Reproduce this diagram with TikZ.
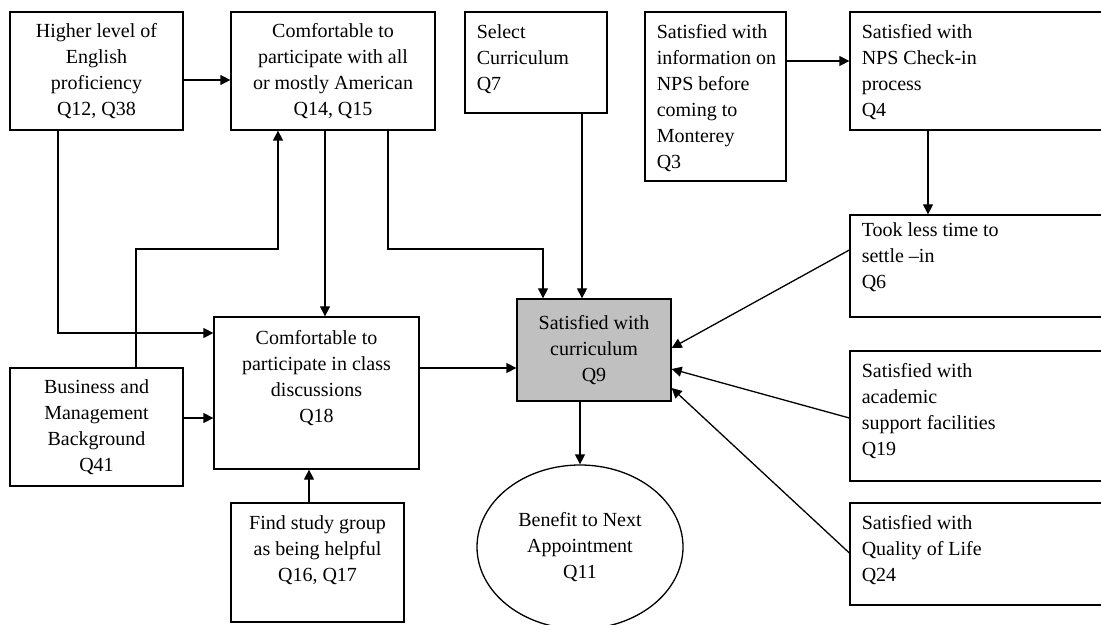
\documentclass[tikz,border=0pt]{standalone}
\usepackage{fontspec}
\setmainfont{Liberation Serif}
\usetikzlibrary{arrows.meta,positioning,shapes.geometric}

\definecolor{curgray}{RGB}{192,192,192}

\tikzset{
  box/.style={draw, line width=0.65pt, inner sep=0pt},
  ctext/.style={align=center, inner sep=0pt, font=\fontsize{10}{13}\selectfont},
  ltext/.style={align=left, inner sep=0pt, font=\fontsize{10}{13}\selectfont},
  arr/.style={-{Triangle[length=5pt,width=5pt]}, line width=0.65pt}
}

\begin{document}
\begin{tikzpicture}[x=0.5pt, y=-0.5pt]
        \useasboundingbox (0,0) rectangle (1101,625);

        % boxes
        \node[box, ctext, minimum width=86.5pt, minimum height=59pt] (eng) at (96.5,71) {Higher level of\\English\\proficiency\\Q12, Q38};
        \node[box, ctext, minimum width=102pt, minimum height=59pt] (amer) at (333,71) {Comfortable to\\participate with all\\or mostly American\\Q14, Q15};
        \node[box, minimum width=71pt, minimum height=50.5pt] (sel) at (536,62.5) {};
        \node[ltext, below right=6.5pt and 6pt of sel.north west] (seltext) {Select\\Curriculum\\Q7};
        \node[box, minimum width=70.5pt, minimum height=84.5pt] (info) at (715.5,96.5) {};
        \node[ltext, below right=6.5pt and 6pt of info.north west] (infotext) {Satisfied with\\information on\\NPS before\\coming to\\Monterey\\Q3};
        \node[box, minimum width=131pt, minimum height=59pt] (chk) at (981,71) {};
        \node[ltext, below right=6.5pt and 6pt of chk.north west] (chktext) {Satisfied with\\NPS Check-in\\process\\Q4};
        \node[box, minimum width=102.5pt, minimum height=76pt] (class) at (316.5,393) {};
        \node[ctext, below=7pt of class.north] (classtext) {Comfortable to\\participate in class\\discussions\\Q18};
        \node[box, ctext, minimum width=86.5pt, minimum height=59pt] (bus) at (96.5,427) {Business and\\Management\\Background\\Q41};
        \node[box, minimum width=86.5pt, minimum height=59.5pt] (study) at (317.5,562.5) {};
        \node[ctext, below=6.5pt of study.north] (studytext) {Find study group\\as being helpful\\Q16, Q17};
        \node[box, ctext, fill=curgray, minimum width=77pt, minimum height=51pt] (cur) at (594,350) {Satisfied with\\curriculum\\Q9};
        \node[box, ctext, ellipse, minimum width=103pt, minimum height=82pt] (ben) at (580,547) {Benefit to Next\\Appointment\\Q11};
        \node[box, minimum width=131pt, minimum height=51pt] (settle) at (981,266) {};
        \node[ltext, below right=4pt and 6pt of settle.north west] (settletext) {Took less time to\\settle --in\\Q6};
        \node[box, minimum width=131pt, minimum height=65pt] (acad) at (981,416) {};
        \node[ltext, below right=6.5pt and 6pt of acad.north west] (acadtext) {Satisfied with\\academic\\support facilities\\Q19};
        \node[box, minimum width=131pt, minimum height=51pt] (qol) at (981,554) {};
        \node[ltext, below right=6.5pt and 6pt of qol.north west] (qoltext) {Satisfied with\\Quality of Life\\Q24};

        % connectors
        \draw[arr] ([yshift=-4.5pt]eng.east) -- ([yshift=-4.5pt]amer.west);
        \draw[arr] (info.east |- 0,61) -- (chk.west |- 0,61);
        \draw[arr] (chk.south -| 928,0) -- (settle.north -| 928,0);
        \draw[arr] (eng.south -| 58,0) |- (class.west |- 0,333);
        \draw[arr] (bus.north -| 136,0) |- (278,249) -- (amer.south -| 278,0);
        \draw[arr] (amer.south -| 325,0) -- (class.north -| 325,0);
        \draw[arr] (amer.south -| 388,0) |- (543,249) -- (cur.north -| 543,0);
        \draw[arr] (sel.south -| 582,0) -- (cur.north -| 582,0);
        \draw[arr] (class.east |- 0,368) -- (cur.west |- 0,368);
        \draw[arr] (bus.east |- 0,418) -- (class.west |- 0,418);
        \draw[arr] (study.north -| 309,0) -- (class.south -| 309,0);
        \draw[arr] (cur.south -| ben.north) -- (ben.north);
        \draw[arr] (settle.west |- 0,250) -- (cur.east |- 0,348);
        \draw[arr] (acad.west |- 0,418) -- (cur.east |- 0,369);
        \draw[arr] (qol.west |- 0,553) -- (cur.east |- 0,388);
    \end{tikzpicture}
\end{document}
